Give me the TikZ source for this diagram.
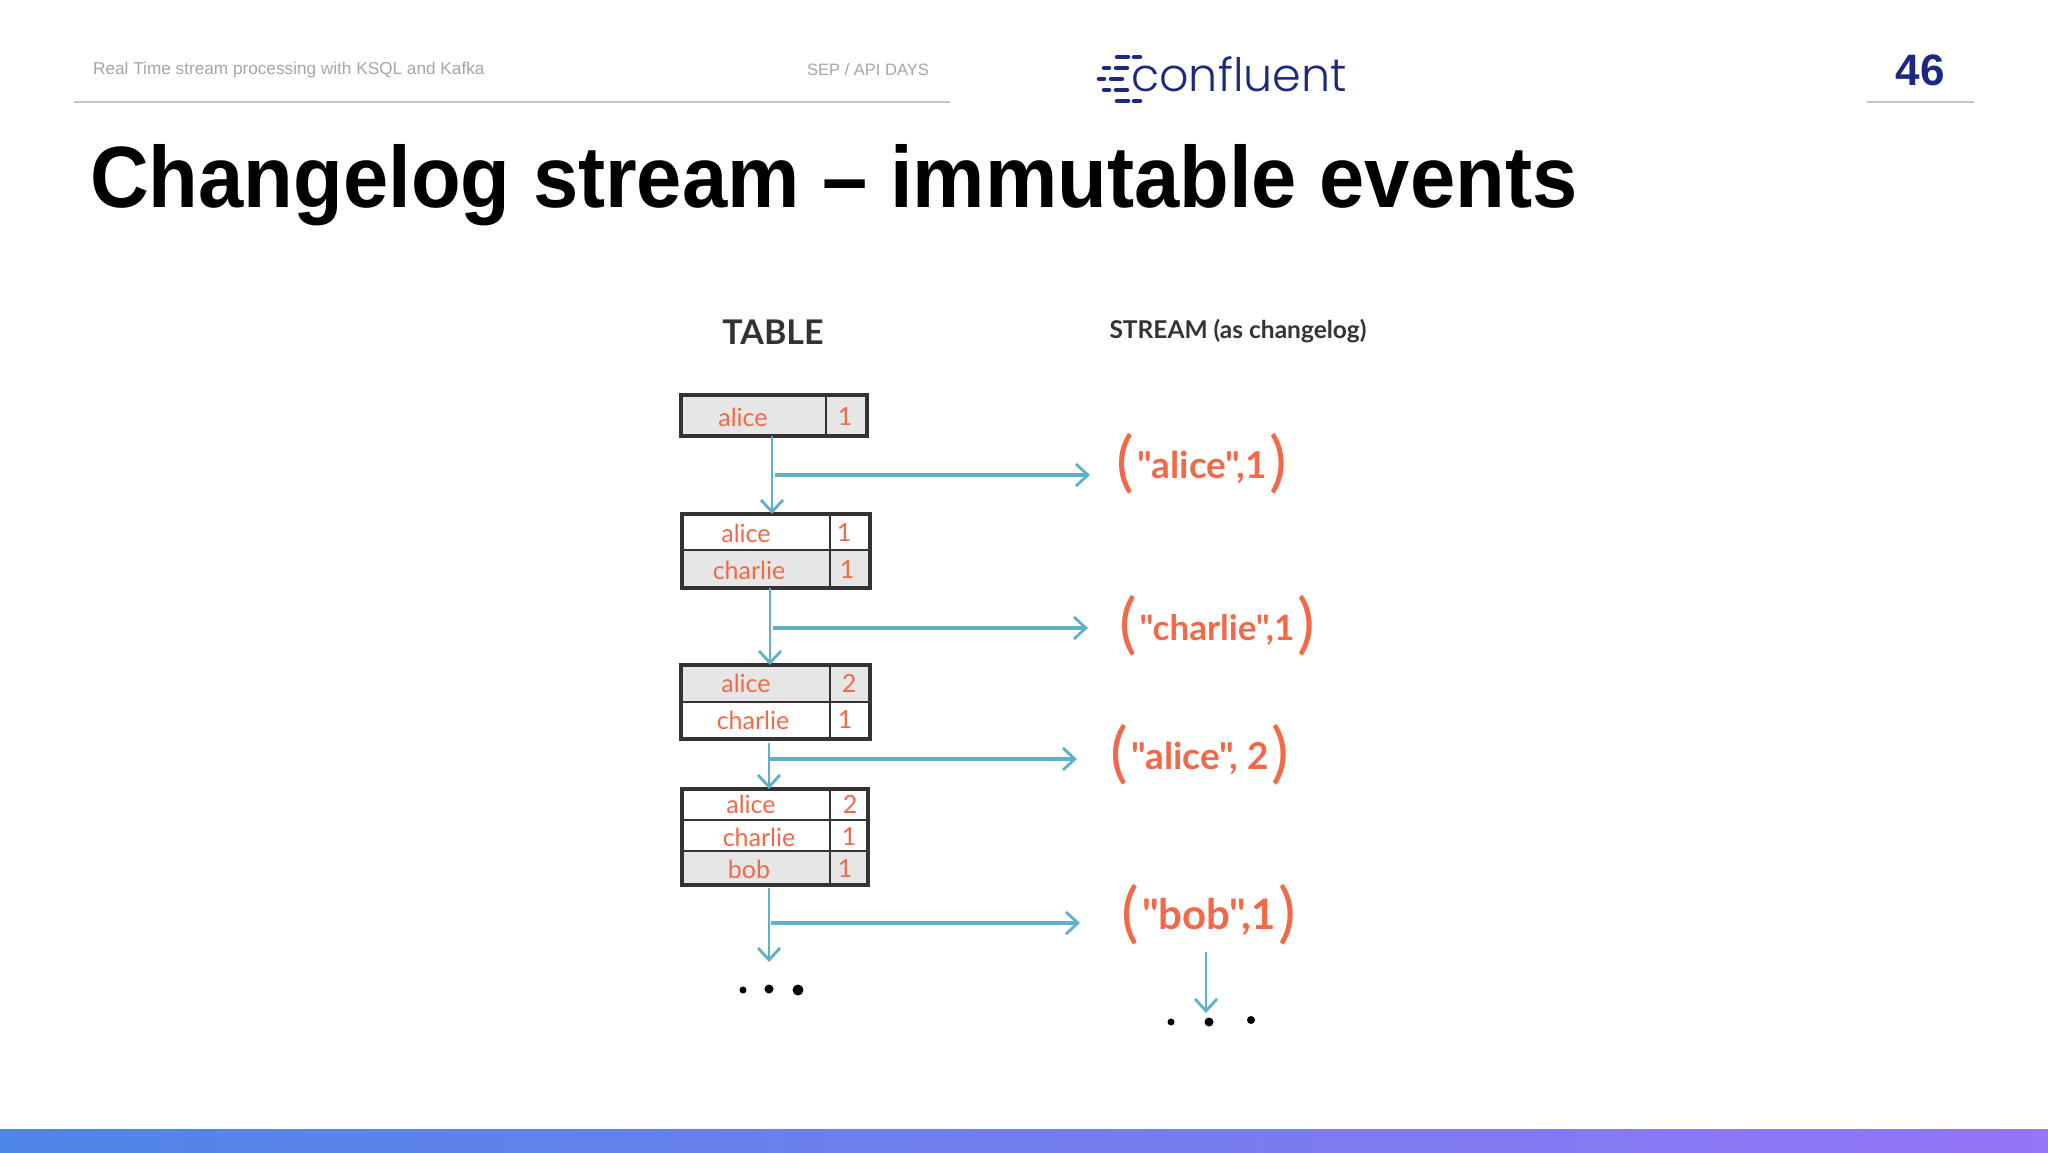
\documentclass[tikz,border=0pt]{standalone}
\usepackage{fontspec}
\setmainfont{Liberation Sans}
\newfontfamily\handfont{Lato}
\newfontfamily\logofont{Poppins Light}
\usetikzlibrary{arrows.meta,calc}
\definecolor{navy}{HTML}{1B2A80}
\definecolor{flowblue}{HTML}{5FB0C9}
\definecolor{inkred}{HTML}{F2694A}
\definecolor{ink}{HTML}{333333}
\definecolor{cellgray}{HTML}{E6E6E6}
\definecolor{headgray}{HTML}{A6A6A6}
\definecolor{rulegray}{HTML}{C4C4C4}
\newcommand{\fsz}[1]{\fontsize{#1}{#1}\selectfont}
\newcommand{\tup}[2]{{\fontseries{m}\fsz{66}\raisebox{-6pt}{(}}\hspace{3pt}{\fsz{#1}#2}\hspace{3pt}{\fontseries{m}\fsz{66}\raisebox{-6pt}{)}}}
\tikzset{
  x=1pt,y=-1pt,
  cellbox/.style={draw=ink,line width=3.2pt,inner sep=0pt,outer sep=0pt,anchor=north west},
  hl/.style={fill=cellgray},
  divider/.style={draw=ink,line width=2.8pt},
  celltxt/.style={text=inkred,inner sep=0pt,font=\handfont\fsz{25}},
  tuple/.style={text=inkred,inner sep=0pt,font=\handfont\bfseries},
  headtxt/.style={text=ink,inner sep=0pt,font=\handfont\bfseries},
  flow/.style={draw=flowblue,line width=2.4pt,-{Straight Barb[length=12pt,width=22pt,line width=2.8pt]}},
  branch/.style={draw=flowblue,line width=3.2pt,-{Straight Barb[length=12pt,width=22pt,line width=2.8pt]}},
  hair/.style={draw=rulegray,line width=1.5pt},
  head/.style={text=headgray,inner sep=0pt,anchor=west},
  logodash/.style={draw=navy,line width=4.5pt,line cap=round},
  dot/.style={circle,fill=#1,inner sep=0pt,minimum size=9pt},
  dot/.default=black
}
\begin{document}
\begin{tikzpicture}
\useasboundingbox (0,0) rectangle (2048,1152);
\fill[white] (0,0) rectangle (2048,1152);
% header
\node[head,font=\fsz{17.2}] (h1) at (93,70) {Real Time stream processing with KSQL and Kafka};
\node[head,font=\fsz{16.5}] (h2) at (807,70) {SEP / API DAYS};
\draw[hair] (74,102) -- (950,102);
\draw[hair] (1867,102) -- (1974,102);
\node[text=navy,inner sep=0pt,font=\bfseries\fsz{44}] (pg) at (1920,70) {46};
\node[text=black,inner sep=0pt,anchor=west,xscale=.935,font=\bfseries\fsz{87}] (title) at (90,185) {Changelog stream -- immutable events};
% logo
\node[text=navy,inner sep=0pt,anchor=west,font=\logofont\fsz{46}] (logo) at (1131,74) {confluent};
\foreach \y/\a/\b/\c/\d in {57/1117/1128/1134/1140,68/1104/1109/1116/1127,79/1099/1104/1111/1122,90/1104/1109/1116/1127,101/1117/1128/1134/1140}{
  \draw[logodash] (\a,\y) -- (\b,\y);
  \draw[logodash] (\c,\y) -- (\d,\y);
}
% bottom bar
\shade[left color={rgb,255:red,78;green,134;blue,230},right color={rgb,255:red,149;green,117;blue,248},shading angle=90] (0,1129) rectangle (2048,1152);
% column headings
\node[headtxt,font=\handfont\bfseries\fsz{34}] (tbl) at (773,332) {TABLE};
\node[headtxt,font=\handfont\bfseries\fsz{24.5}] (strm) at (1238,331) {STREAM (as changelog)};
% table 1
\node[cellbox,hl,minimum width=186pt,minimum height=41pt] (t1) at (681,395) {};
\draw[divider] (826,395) -- (826,436);
\node[celltxt] (t1a) at (743,417) {alice};
\node[celltxt] (t1b) at (845,417) {1};
% table 2
\fill[cellgray] (682,550) rectangle (870,588);
\node[cellbox,minimum width=188pt,minimum height=74pt] (t2) at (682,514) {};
\draw[divider] (682,550) -- (870,550);
\draw[divider] (830,514) -- (830,588);
\node[celltxt] (t2a) at (746,533) {alice};
\node[celltxt] (t2b) at (844,533) {1};
\node[celltxt] (t2c) at (749,570) {charlie};
\node[celltxt] (t2d) at (847,570) {1};
% table 3
\fill[cellgray] (681,665) rectangle (870,702);
\node[cellbox,minimum width=189pt,minimum height=74pt] (t3) at (681,665) {};
\draw[divider] (681,702) -- (870,702);
\draw[divider] (830,665) -- (830,739);
\node[celltxt] (t3a) at (746,683) {alice};
\node[celltxt] (t3b) at (849,683) {2};
\node[celltxt] (t3c) at (753,720) {charlie};
\node[celltxt] (t3d) at (845,720) {1};
% table 4
\fill[cellgray] (682,851) rectangle (868,885);
\node[cellbox,minimum width=186pt,minimum height=96pt] (t4) at (682,789) {};
\draw[divider] (682,820) -- (868,820);
\draw[divider] (682,851) -- (868,851);
\draw[divider] (830,789) -- (830,885);
\node[celltxt] (t4a) at (751,804) {alice};
\node[celltxt] (t4b) at (850,804) {2};
\node[celltxt] (t4c) at (759,837) {charlie};
\node[celltxt] (t4d) at (849,837) {1};
\node[celltxt] (t4e) at (749,869) {bob};
\node[celltxt] (t4f) at (845,869) {1};
% tuples
\node[tuple] (p1) at (1202,464) {\tup{37}{"alice",1}};
\node[tuple] (p2) at (1217,626) {\tup{35}{"charlie",1}};
\node[tuple] (p3) at (1200,755) {\tup{37}{"alice", 2}};
\node[tuple] (p4) at (1209,915) {\tup{42}{"bob",1}};
% connector anchors
\coordinate (b1) at (775,475); \coordinate (e1) at (1090,475);
\coordinate (b2) at (773,628); \coordinate (e2) at (1088,628);
\coordinate (b3) at (770,759); \coordinate (e3) at (1077,759);
\coordinate (b4) at (771,923); \coordinate (e4) at (1080,923);
\coordinate (e5) at (769,962);
\coordinate (s5) at (1206,952); \coordinate (e6) at (1206,1013);
% dots
\node[dot,minimum size=7pt] (d1) at (743,990) {};
\node[dot] (d2) at (769,989) {};
\node[dot,minimum size=11pt] (d3) at (798,990) {};
\node[dot,minimum size=7pt] (d4) at (1171,1022) {};
\node[dot] (d5) at (1209,1022) {};
\node[dot,minimum size=8pt] (d6) at (1251,1020) {};
% connectors
\draw[flow] (t1.south -| 772,0) -- (t2.north -| 772,0);
\draw[flow] (t2.south -| 770,0) -- (t3.north -| 770,0);
\draw[flow] (769,743) -- (t4.north -| 769,0);
\draw[flow] (769,888) -- (e5);
\draw[flow,line width=2pt] (s5) -- (e6);
\draw[branch] (b1) -- (e1);
\draw[branch] (b2) -- (e2);
\draw[branch] (b3) -- (e3);
\draw[branch] (b4) -- (e4);
\end{tikzpicture}
\end{document}
